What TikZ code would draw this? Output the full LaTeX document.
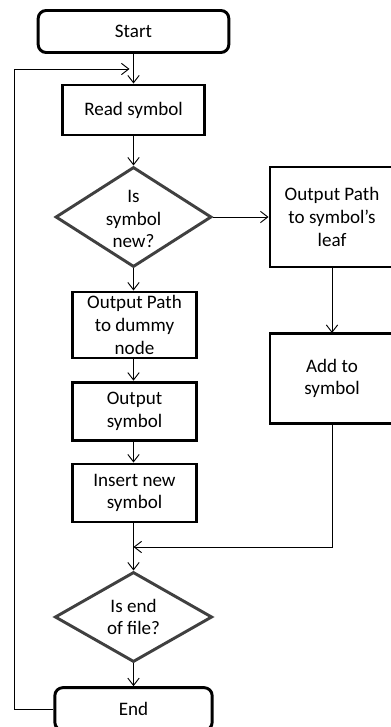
\documentclass[tikz,border=0pt]{standalone}
\usepackage{fontspec}
\setmainfont{Carlito}
\usetikzlibrary{shapes.geometric,arrows.meta}
\definecolor{dgrey}{RGB}{64,64,64}
\begin{document}
\begin{tikzpicture}[x=0.75pt,y=-0.75pt,
  font=\fontsize{14.3}{17}\selectfont,
  procbox/.style={draw=black,line width=2.2pt,rectangle,align=center,inner sep=0pt},
  termbox/.style={procbox,rounded corners=6pt},
  decbox/.style={draw=dgrey,line width=2.2pt,diamond,inner sep=0pt},
  conn/.style={draw=black,line width=0.7pt},
  arr/.style={conn,-{Straight Barb[length=5.5pt,width=8.5pt]}}
]
\useasboundingbox (0,0) rectangle (391,727);
% nodes
\node[termbox,minimum width=143pt,minimum height=31.5pt] (start) at (133.5,31.5) {Start};
\node[procbox,minimum width=106pt,minimum height=37.5pt] (read) at (133.5,110) {Read symbol};
\node[decbox,minimum width=117pt,minimum height=75pt] (dec1) at (133.5,217) {};
\node[align=center] (dec1t) at (133.5,219) {Is\\symbol\\new?};
\node[procbox,minimum width=96pt,minimum height=75pt] (leaf) at (334,217) {};
\node[align=center] (leaft) at (332,217) {Output Path\\to symbol’s\\leaf};
\node[procbox,minimum width=96pt,minimum height=68pt] (add) at (334,378.5) {};
\node[align=center] (addt) at (332,378.5) {Add to\\symbol};
\node[procbox,minimum width=93pt,minimum height=49.5pt] (dummy) at (134.5,325) {Output Path\\to dummy\\node};
\node[procbox,minimum width=93pt,minimum height=44pt] (outsym) at (134.5,411.5) {Output\\symbol};
\node[procbox,minimum width=93pt,minimum height=43.5pt] (insert) at (134.5,493) {Insert new\\symbol};
\node[decbox,minimum width=118pt,minimum height=67.5pt] (dec2) at (133.5,617) {};
\node[align=center] (dec2t) at (133.5,617) {Is end\\of file?};
\node[termbox,minimum width=118pt,minimum height=32pt] (end) at (133.5,709) {End};
% helper coordinates
\coordinate (merge) at (133.5,547);
\coordinate (addturn) at (332,547);
\coordinate (leafbot) at (332,267);
\coordinate (addtop) at (332,333);
\coordinate (addbot) at (332,424);
\coordinate (loopa) at (14,709);
\coordinate (loopb) at (14,69);
\coordinate (loopend) at (129.5,69);
% connectors
\draw[arr] (start.south) -- (read.north);
\draw[arr] (read.south) -- (dec1.north);
\draw[arr] (dec1.east) -- (leaf.west);
\draw[arr] (dec1.south) -- (dec1.south |- dummy.north);
\draw[arr] (leafbot) -- (addtop);
\draw[arr] (dummy.south -| dec1.south) -- (dec1.south |- outsym.north);
\draw[arr] (outsym.south -| dec1.south) -- (dec1.south |- insert.north);
\draw[arr] (insert.south -| dec1.south) -- (dec2.north);
\draw[arr] (addbot) -- (addturn) -- (merge);
\draw[arr] (dec2.south) -- (end.north);
\draw[arr] (end.west) -- (loopa) -- (loopb) -- (loopend);
\end{tikzpicture}
\end{document}
